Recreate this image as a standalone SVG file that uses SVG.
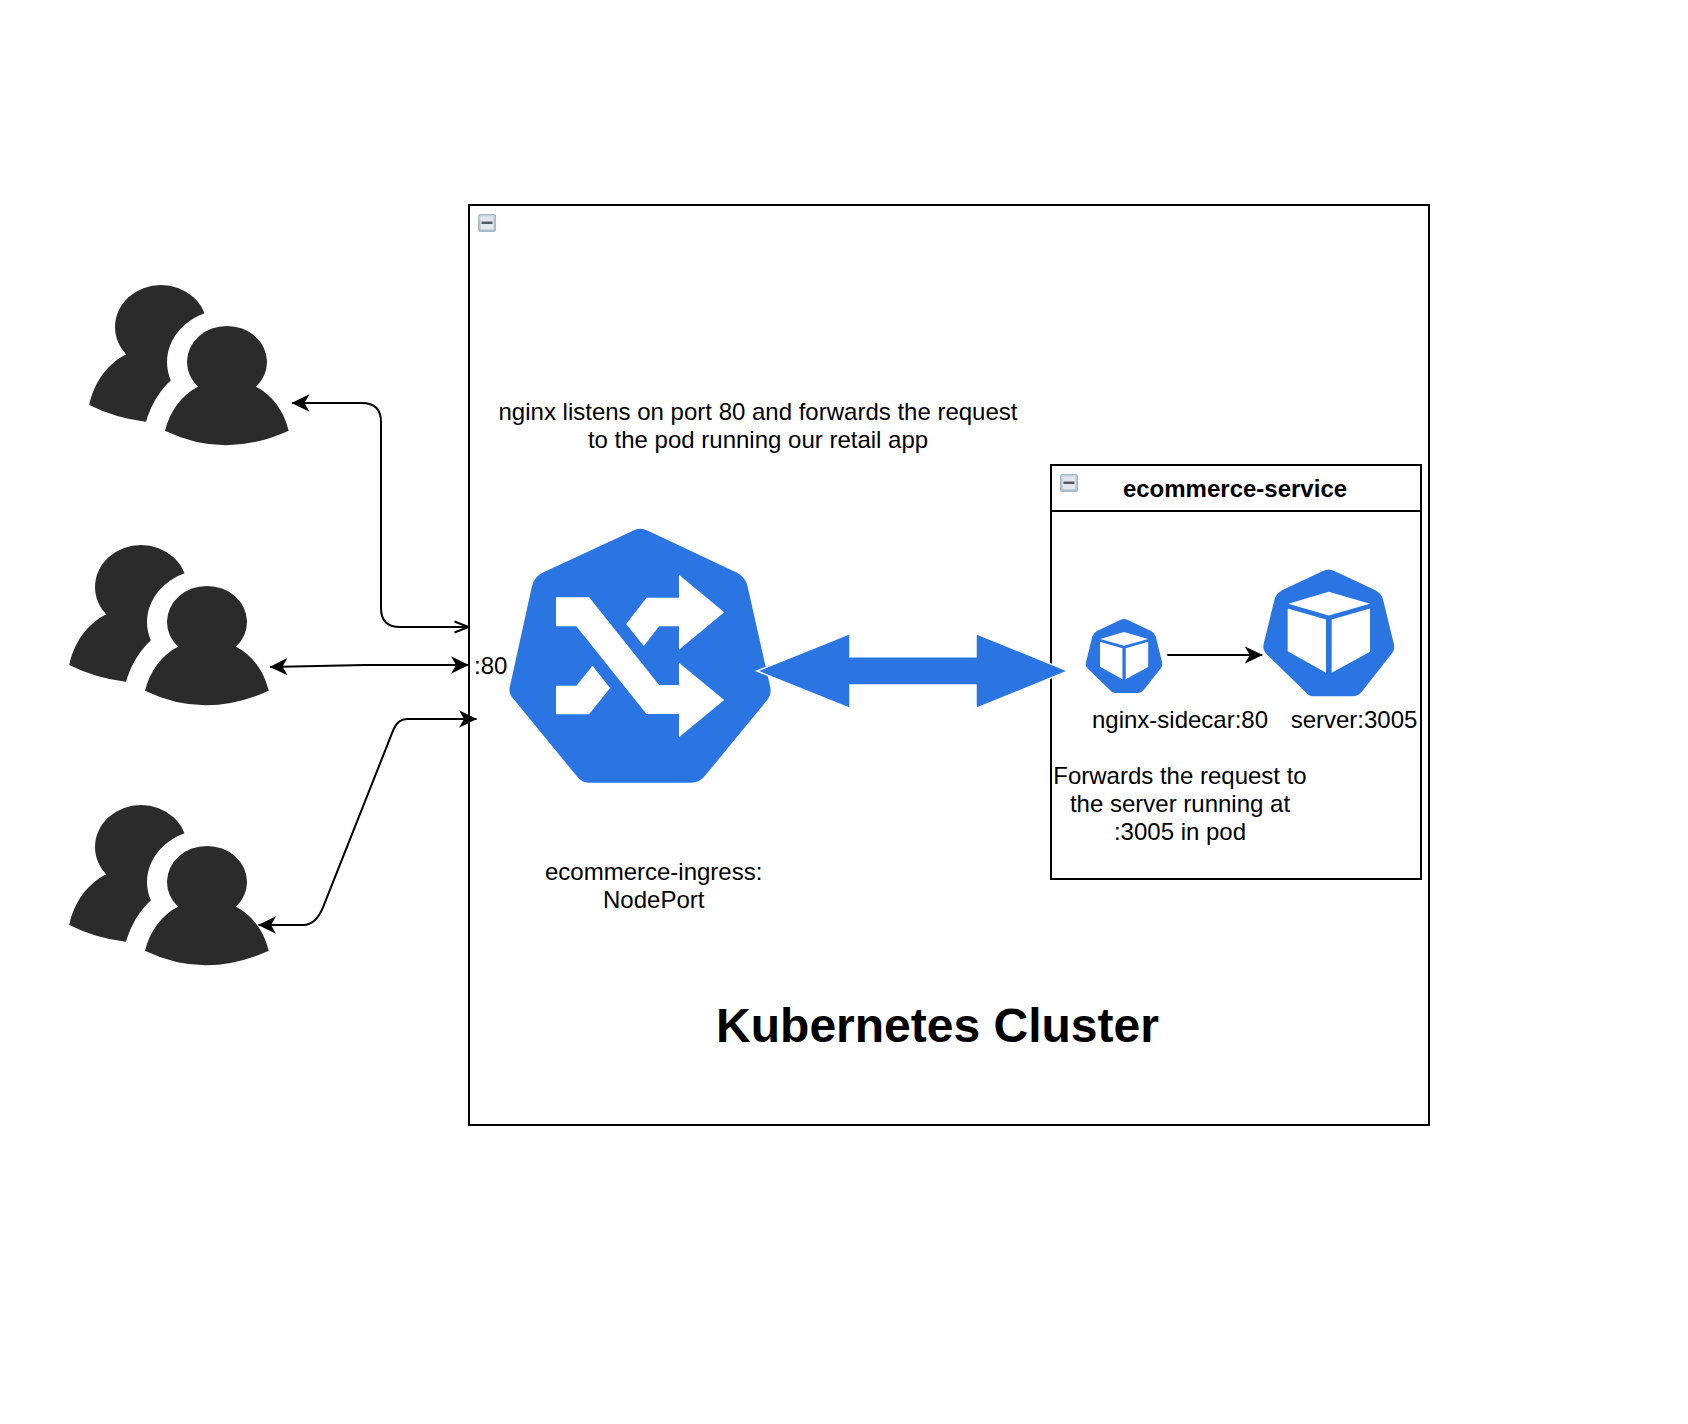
<svg xmlns="http://www.w3.org/2000/svg" xmlns:xlink="http://www.w3.org/1999/xlink" width="1688" height="1424" viewBox="0 0 1688 1424">
<style>
text{font-family:"Liberation Sans",Arial,Helvetica,sans-serif;font-size:24px;fill:#000;text-anchor:middle}
.b{font-weight:bold}
.box{fill:none;stroke:#000;stroke-width:2}
.c{fill:none;stroke:#000;stroke-width:2}
.dark{fill:#2b2b2b}
.blue{fill:#2b75e2}
.w{fill:#fff}
</style>
<defs>
<linearGradient id="mg" x1="0" y1="0" x2="0" y2="1"><stop offset="0" stop-color="#c3cfd9"/><stop offset="1" stop-color="#a9bccb"/></linearGradient>
<g id="minus"><rect x="0.5" y="0.5" width="17" height="17" rx="1.5" fill="url(#mg)" stroke="#a8b8c6"/><rect x="2.5" y="2.5" width="13" height="13" fill="#e2e8ee"/><rect x="3.5" y="7.500" width="11" height="2.500" fill="#555b62"/></g>
<g id="users">
<ellipse class="dark" cx="161" cy="327" rx="46" ry="42"/>
<path class="dark" d="M89.3,405C94,382 108,363 127,354L190,370L175,430L145.7,421.7Q115,418 89.3,405Z"/>
<ellipse class="w" cx="227" cy="362" rx="60" ry="52.500"/>
<path d="M165,430C170,410 182,394 198,386H256C272,394 284,410 288.700,430Q225,459 165,430Z" fill="#fff" stroke="#fff" stroke-width="41" stroke-linejoin="round"/>
<path class="dark" d="M165,430C170,410 182,394 198,386A40,36 0 1 1 256,386C272,394 284,410 288.700,430Q225,459 165,430Z" transform="translate(0,.7)"/>
</g>
<g id="pod">
<path class="blue" d="M1323,571.500Q1328.700,568.500 1334.400,571.500L1375,590.500Q1381.500,594 1383,600L1394,645Q1395,651 1391,655L1362,692Q1358,696.700 1353,696.700H1313Q1308.500,696.700 1305,692L1267,655Q1262.500,651 1263.500,645L1274.500,600Q1276,594 1282.500,590.500Z"/>
<path class="w" d="M1328.700,592.300L1370,604.300L1328.700,616L1288.300,604.300Z"/>
<path class="w" d="M1287.700,609L1326,620V673.300L1287.700,651.700Z"/>
<path class="w" d="M1331.700,620L1370,609V652.300L1331.700,673.300Z"/>
</g>
<marker id="cl" viewBox="0 0 18 18" refX="17.500" refY="9" markerWidth="18" markerHeight="18" markerUnits="userSpaceOnUse" orient="auto-start-reverse"><path d="M18,9L0,0.300L5,9L0,17.700Z" fill="#000"/></marker>
<marker id="op" viewBox="0 0 16 14" refX="15" refY="7" markerWidth="16" markerHeight="14" markerUnits="userSpaceOnUse" orient="auto"><path d="M1,1.500L15,7L1,12.500" fill="none" stroke="#000" stroke-width="2"/></marker>
</defs>
<rect width="1688" height="1424" fill="#fff"/>
<g id="cluster">
<rect class="box" x="469" y="205" width="960" height="920"/>
<use xlink:href="#minus" href="#minus" x="478" y="214"/>
<text class="b" x="937.500" y="1042" style="font-size:48px">Kubernetes Cluster</text>
<text x="474" y="674" style="text-anchor:start">:80</text>
<text x="758" y="420">nginx listens on port 80 and forwards the request</text>
<text x="758" y="448">to the pod running our retail app</text>
</g>
<g id="users-1"><use xlink:href="#users" href="#users"/></g>
<g id="users-2"><use xlink:href="#users" href="#users" x="-20" y="260"/></g>
<g id="users-3"><use xlink:href="#users" href="#users" x="-20" y="520"/></g>
<g id="ingress">
<path class="blue" d="M633,530.700Q640,527 648,530.700L736.500,572.500Q745.500,577 747.500,586L770,686Q772,694 768,699L706.500,774Q700.500,782.700 690.500,782.700H589Q581,782.700 575,774L513.500,699Q508,693 510,686L532,586Q534,577 543,572.500Z"/>
<path class="w" d="M556,597.300H589.100L659.100,685H679V662.700L724.200,700L679,737.300V714H646.500L576.400,626.300H556Z"/>
<path class="w" d="M646.500,597.700H679V574.700L724.200,612.300L679,649.700V626.300H659.100L643.800,646L626.200,624Z"/>
<path class="w" d="M556,685.700H576.400L592.500,665.700L610.100,688L589.100,714.300H556Z"/>
<text x="653.700" y="880">ecommerce-ingress:</text>
<text x="653.700" y="908">NodePort</text>
</g>
<g id="ecommerce-service">
<rect class="box" x="1051" y="465" width="370" height="414"/>
<path class="box" d="M1051,511H1421"/>
<use xlink:href="#minus" href="#minus" x="1060" y="474"/>
<text class="b" x="1235" y="497">ecommerce-service</text>
<g id="nginx-sidecar"><use xlink:href="#pod" href="#pod" transform="translate(1124,618.500) scale(.585) translate(-1328.700,-569.300)"/><text x="1180" y="728">nginx-sidecar:80</text></g>
<g id="server"><use xlink:href="#pod" href="#pod" transform="translate(0,-.5)"/><text x="1354" y="728">server:3005</text></g>
<text x="1180" y="784">Forwards the request to</text>
<text x="1180" y="812">the server running at</text>
<text x="1180" y="840">:3005 in pod</text>
</g>
<g id="connectors">
<path class="c" d="M292,403H362Q381,403 381,422V608Q381,627 400,627H468.500" marker-start="url(#cl)" marker-end="url(#op)"/>
<path class="c" d="M270,667L365,665H468.500" marker-start="url(#cl)" marker-end="url(#cl)"/>
<path class="c" d="M476.500,719H406.700Q398,719 393.300,730L323.300,906.700Q316,925 303.300,925H258.500" marker-start="url(#cl)" marker-end="url(#cl)"/>
<path class="c" d="M1167.300,655H1262.300" marker-end="url(#cl)"/>
<path id="big-arrow" class="blue" stroke="#fff" stroke-width="1.500" d="M757,671L850,633.500V656.700H976V633.500L1068,671L976,708.500V685H850V708.500Z"/>
</g>
</svg>
